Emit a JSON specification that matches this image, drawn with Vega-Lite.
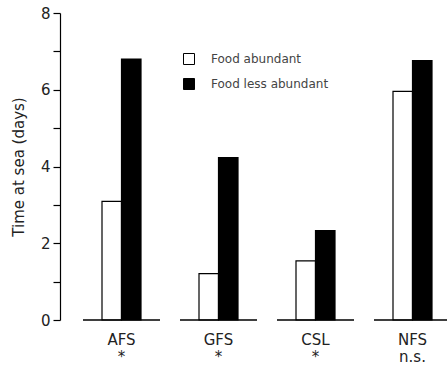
{
  "$schema": "https://vega.github.io/schema/vega-lite/v6.json",
  "width": 388,
  "height": 307,
  "autosize": {"type": "none"},
  "padding": {"left": 73, "top": 13, "right": 0, "bottom": 45},
  "background": "white",
  "config": {
    "view": {"stroke": null},
    "font": "DejaVu Sans",
    "axisY": {
      "values": [0, 1, 2, 3, 4, 5, 6, 7, 8],
      "labelExpr": "datum.value % 2 == 0 ? datum.label : ''",
      "grid": false,
      "offset": 13,
      "domainColor": "black",
      "domainWidth": 1.2,
      "tickColor": "black",
      "tickWidth": 1.2,
      "tickSize": 7,
      "labelFontSize": 15,
      "labelColor": "#222",
      "labelPadding": 3,
      "titleFontSize": 15,
      "titleFontWeight": "normal",
      "titleColor": "#222",
      "titlePadding": 14
    },
    "axisX": {
      "domain": false,
      "ticks": false,
      "labelAngle": 0,
      "labelFontSize": 15,
      "labelColor": "#222",
      "labelPadding": 12,
      "labelLineHeight": 17,
      "labelExpr": "datum.label == 'NFS' ? ['NFS', 'n.s.'] : [datum.label, '*']"
    }
  },
  "datasets": {
    "bars": [
      {"site": "AFS", "food": "Food abundant", "days": 3.09},
      {"site": "AFS", "food": "Food less abundant", "days": 6.8},
      {"site": "GFS", "food": "Food abundant", "days": 1.21},
      {"site": "GFS", "food": "Food less abundant", "days": 4.23},
      {"site": "CSL", "food": "Food abundant", "days": 1.54},
      {"site": "CSL", "food": "Food less abundant", "days": 2.33},
      {"site": "NFS", "food": "Food abundant", "days": 5.96},
      {"site": "NFS", "food": "Food less abundant", "days": 6.76}
    ],
    "groups": [
      {"site": "AFS", "base": 0},
      {"site": "GFS", "base": 0},
      {"site": "CSL", "base": 0},
      {"site": "NFS", "base": 0}
    ]
  },
  "encoding": {
    "x": {
      "field": "site",
      "type": "nominal",
      "sort": ["AFS", "GFS", "CSL", "NFS"],
      "title": null,
      "scale": {"paddingInner": 0.206, "paddingOuter": 0.103}
    }
  },
  "layer": [
    {
      "data": {"name": "bars"},
      "mark": {"type": "bar", "stroke": "black", "strokeWidth": 1.2},
      "encoding": {
        "xOffset": {
          "field": "food",
          "type": "nominal",
          "sort": ["Food abundant", "Food less abundant"],
          "scale": {"paddingInner": 0, "paddingOuter": 0.975}
        },
        "y": {
          "field": "days",
          "type": "quantitative",
          "title": "Time at sea (days)",
          "scale": {"domain": [0, 8], "nice": false}
        },
        "color": {
          "field": "food",
          "type": "nominal",
          "scale": {"domain": ["Food abundant", "Food less abundant"], "range": ["white", "black"]},
          "legend": {
            "orient": "none",
            "legendX": 110,
            "legendY": 40,
            "title": null,
            "symbolType": "square",
            "symbolSize": 121,
            "symbolStrokeColor": "black",
            "symbolStrokeWidth": 1,
            "labelFontSize": 12,
            "labelColor": "#444",
            "rowPadding": 9,
            "labelOffset": 16
          }
        }
      }
    },
    {
      "data": {"name": "groups"},
      "mark": {"type": "bar", "fill": null, "stroke": "black", "strokeWidth": 1.5},
      "encoding": {
        "y": {"field": "base", "type": "quantitative", "title": "Time at sea (days)"},
        "y2": {"field": "base"}
      }
    }
  ]
}
